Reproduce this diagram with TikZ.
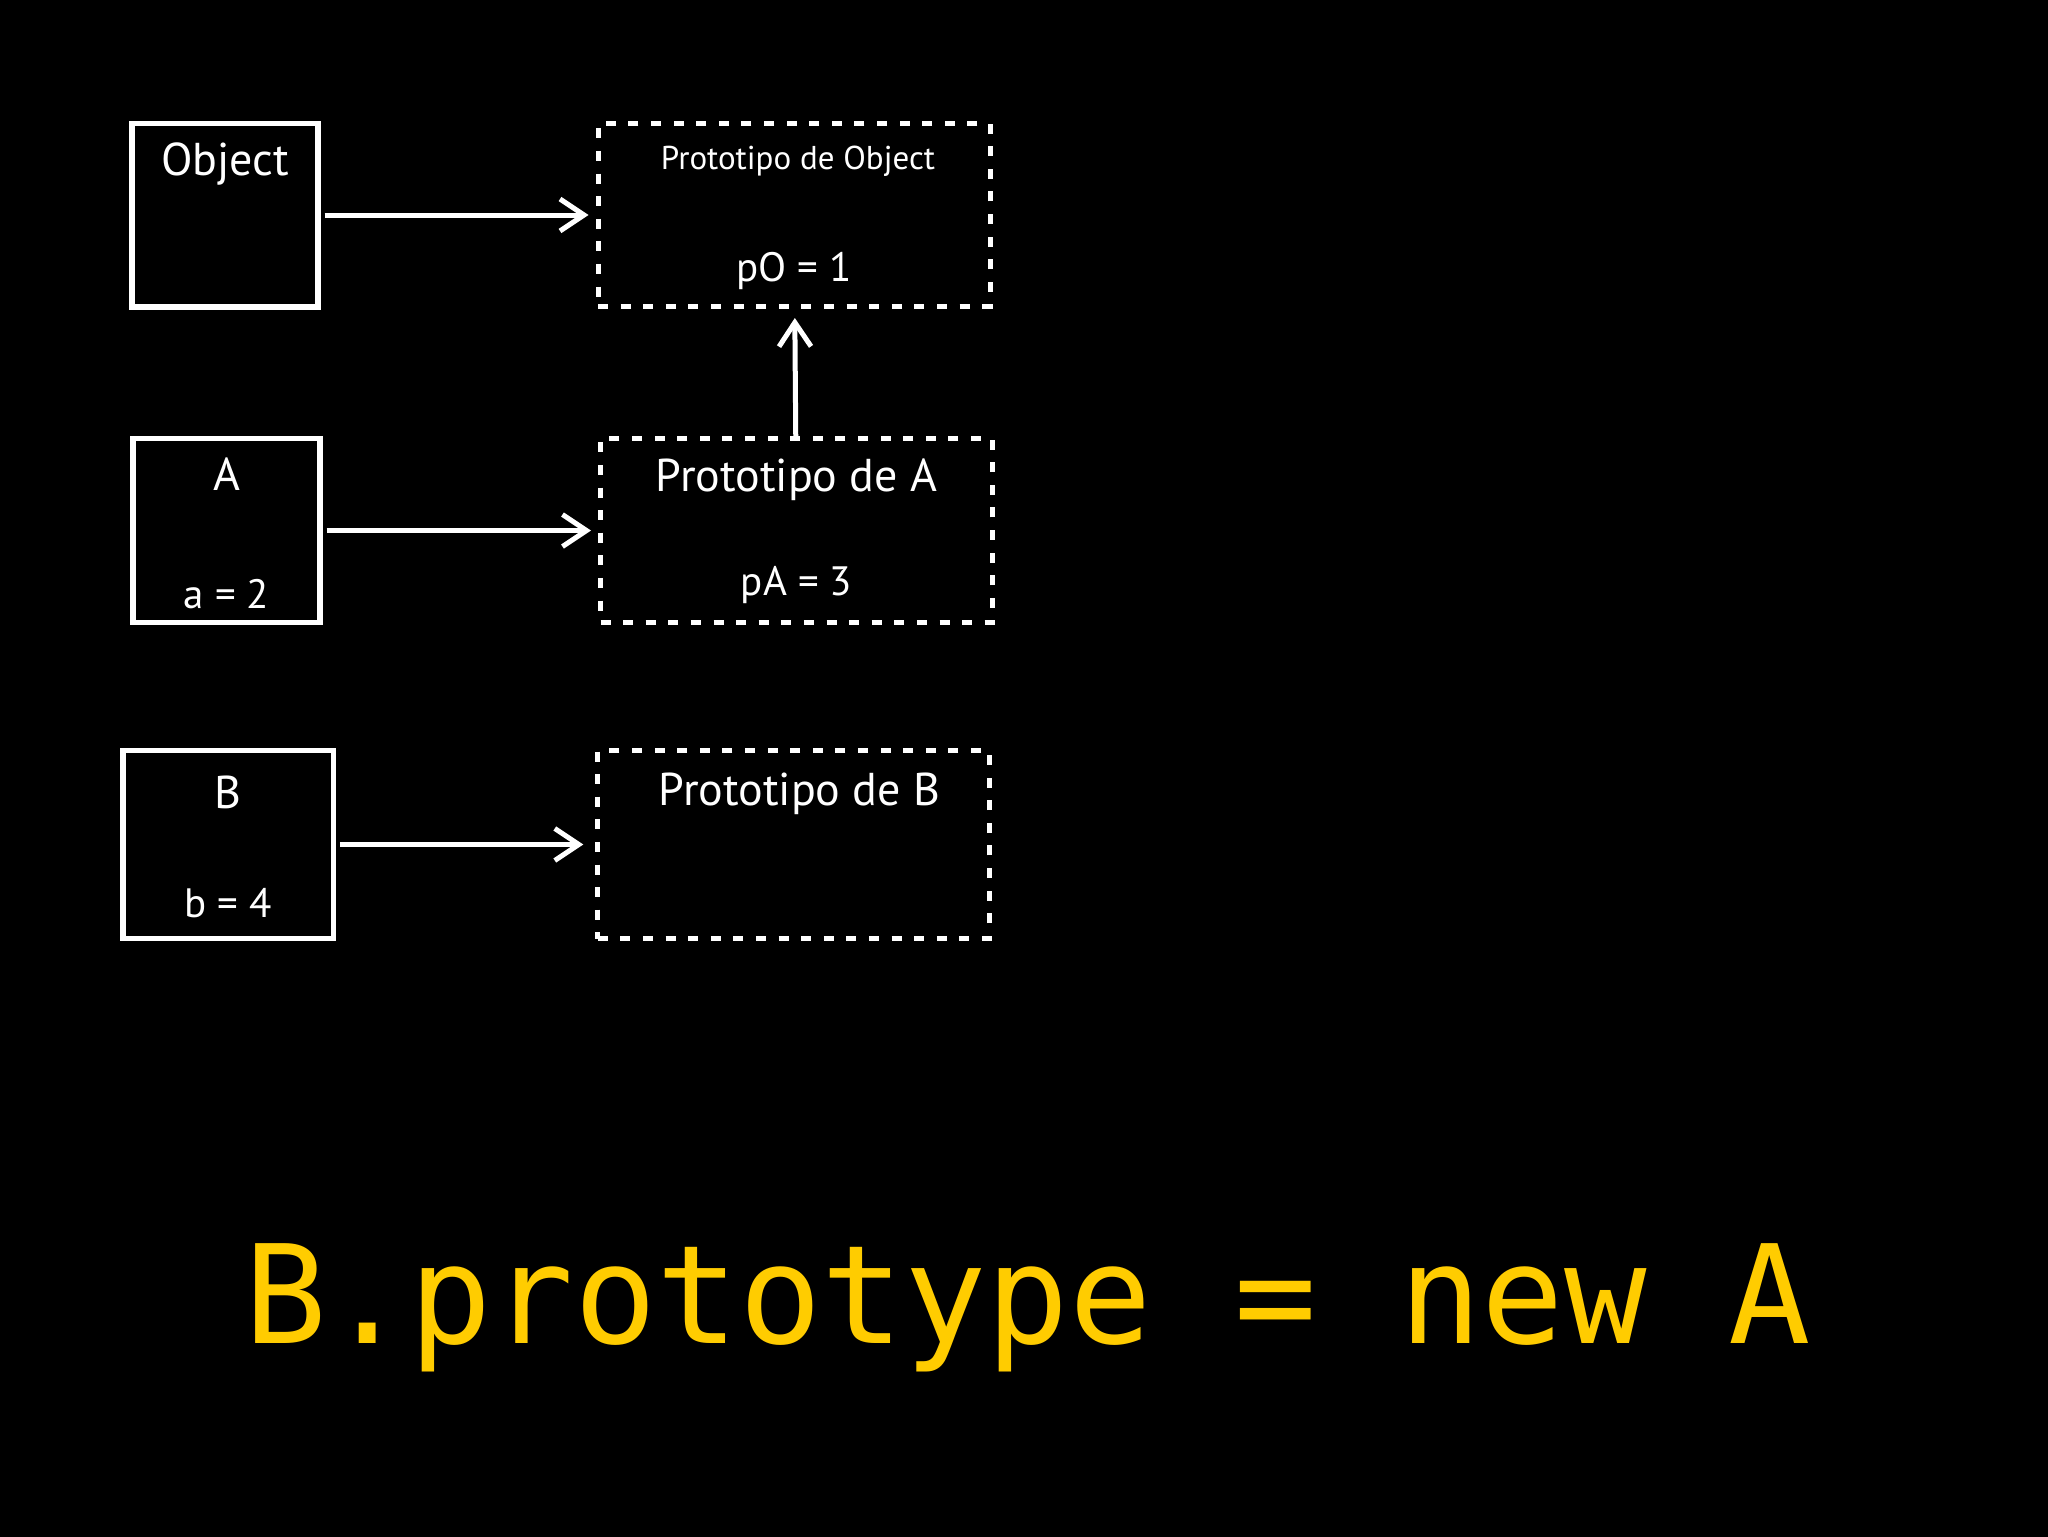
\documentclass[tikz,border=0pt]{standalone}
\usepackage{fontspec}
\setmainfont{PT Sans}
\newfontfamily\codefont{DejaVu Sans Mono}
\usetikzlibrary{arrows.meta}
\definecolor{codeyellow}{HTML}{FFCC00}

\begin{document}
\begin{tikzpicture}[x=0.5pt, y=-0.5pt,
    classbox/.style={draw=white, line width=2.7pt, inner sep=0pt},
    protobox/.style={draw=white, line width=2.5pt, dash pattern=on 5pt off 6.3pt, inner sep=0pt},
    title/.style={text=white, anchor=base, inner sep=0pt, font=\fontsize{23}{27}\selectfont},
    small title/.style={title, font=\fontsize{16.5}{19}\selectfont},
    value/.style={text=white, anchor=base, inner sep=0pt, font=\fontsize{20.5}{24}\selectfont},
    link/.style={draw=white, line width=2.5pt, -{Straight Barb[length=12pt,width=16pt]},
      shorten <=2pt, shorten >=3.5pt},
    code/.style={text=codeyellow, anchor=base, inner sep=0pt, font=\codefont\fontsize{68.5}{80}\selectfont}]
  % black slide as background
  \useasboundingbox (0,0) rectangle (2048,1536);
  \fill[black] (-20,-20) rectangle (2068,1556);

  % define the constructor boxes
  \node[classbox, minimum width=93pt, minimum height=91.8pt] (obj) at (225,215) {};
  \node[classbox, minimum width=93.5pt, minimum height=92.2pt] (a) at (226.5,530.5) {};
  \node[classbox, minimum width=105.2pt, minimum height=94pt] (b) at (228,844.5) {};

  % define the prototype boxes next to them
  \node[protobox, minimum width=196pt, minimum height=91.5pt] (pobj) at (794,215) {};
  \node[protobox, minimum width=196pt, minimum height=92pt] (pa) at (796.5,530.5) {};
  \node[protobox, minimum width=195.7pt, minimum height=94pt] (pb) at (793.5,844.5) {};

  % texts inside the boxes
  \node[title] (objT) at ([yshift=-27.5pt]obj.north) {Object};
  \node[title] (aT) at ([yshift=-27.5pt]a.north) {A};
  \node[value] (aV) at ([yshift=8.5pt]a.south) {a = 2};
  \node[title] (bT) at ([yshift=-30.5pt]b.north) {B};
  \node[value] (bV) at ([yshift=12pt]b.south) {b = 4};
  \node[small title] (pobjT) at ([xshift=2pt,yshift=-24pt]pobj.north) {Prototipo de Object};
  \node[value] (pobjV) at ([yshift=14pt]pobj.south) {pO = 1};
  \node[title] (paT) at ([yshift=-27.5pt]pa.north) {Prototipo de A};
  \node[value] (paV) at ([yshift=15pt]pa.south) {pA = 3};
  \node[title] (pbT) at ([xshift=3pt,yshift=-28.5pt]pb.north) {Prototipo de B};

  % links from each box to its prototype
  \draw[link] (obj) -- (pobj);
  \draw[link] (a) -- (pa);
  \draw[link, shorten >=6pt] (b) -- (pb);
  \draw[link, shorten <=0pt, shorten >=4.5pt] (pa) -- (pobj);

  % the line of code
  \node[code] (line) at (1028,1343) {B.prototype = new A};
\end{tikzpicture}
\end{document}
